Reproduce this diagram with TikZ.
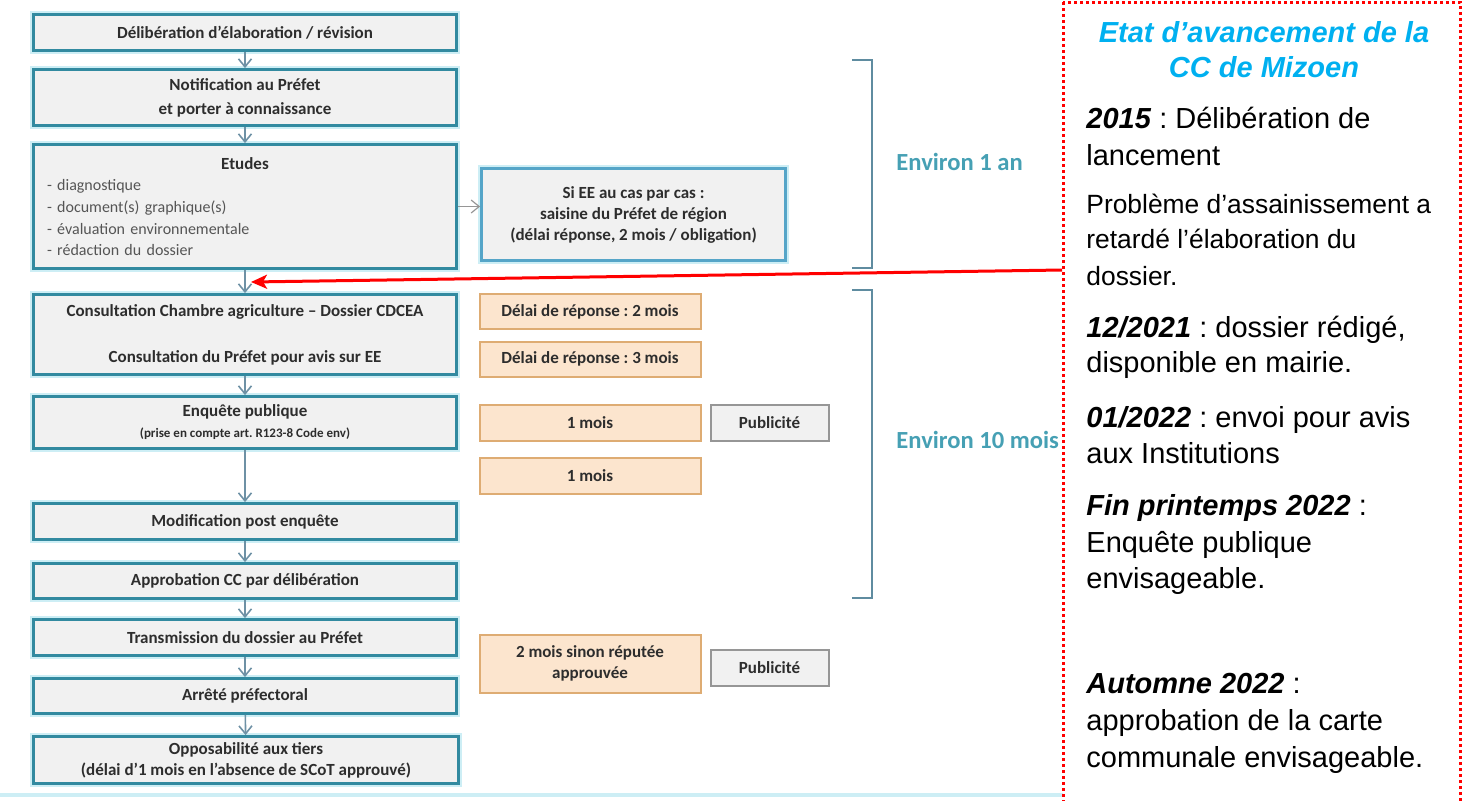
\documentclass[tikz,border=0pt]{standalone}
\usepackage{fontspec}
\setmainfont{Liberation Sans}
\newfontfamily\boxfont{Carlito}
\usetikzlibrary{arrows.meta}
\frenchspacing

\definecolor{stageline}{RGB}{50,138,160}
\definecolor{stagefill}{RGB}{241,241,241}
\definecolor{glow}{RGB}{205,238,245}
\definecolor{eeline}{RGB}{85,165,200}
\definecolor{delayfill}{RGB}{252,229,206}
\definecolor{delayline}{RGB}{222,172,115}
\definecolor{publine}{RGB}{150,150,150}
\definecolor{flowcol}{RGB}{110,145,165}
\definecolor{bracecol}{RGB}{95,140,160}
\definecolor{envcol}{RGB}{70,160,180}
\definecolor{titleblue}{RGB}{0,176,240}
\definecolor{boxtext}{RGB}{45,45,45}
\definecolor{listtext}{RGB}{85,85,85}

\newcommand\datum[1]{\textbf{\textit{#1}}}
\newcommand\smallpanel{\fontsize{13.2}{16}\selectfont}

\begin{document}
\begin{tikzpicture}[x=0.5pt, y=-0.5pt,
  stage/.style={draw=stageline, line width=1.4pt, fill=stagefill,
    preaction={draw=glow, line width=3.5pt}, minimum width=211.5pt,
    inner sep=2pt, align=center, text=boxtext,
    font=\boxfont\bfseries\fontsize{8.5}{10.5}\selectfont},
  ee/.style={stage, draw=eeline, minimum width=152pt, minimum height=46pt},
  delay/.style={draw=delayline, line width=1pt, fill=delayfill,
    minimum width=110.5pt, minimum height=17.5pt, inner sep=2pt,
    align=center, text=boxtext,
    font=\boxfont\bfseries\fontsize{8.5}{10.5}\selectfont},
  pub/.style={delay, draw=publine, fill=stagefill, minimum width=59pt,
    minimum height=18pt},
  flow/.style={draw=flowcol, line width=0.8pt,
    -{Straight Barb[length=4pt, width=6.5pt]}},
  brace/.style={draw=bracecol, line width=1pt},
  period/.style={anchor=west, inner sep=0pt, text=envcol,
    font=\boxfont\bfseries\fontsize{12.3}{14}\selectfont},
  paneltitle/.style={anchor=base, inner sep=0pt, text=titleblue,
    font=\bfseries\itshape\fontsize{14.5}{18}\selectfont},
  paneltext/.style={anchor=base west, inner sep=0pt,
    font=\fontsize{14.5}{18}\selectfont}]

  \clip (0,0) rectangle (1469,800);

  % Procedure, left column
  \node[stage, minimum height=18pt] (delib) at (245,32.5) {Délibération d’élaboration / révision};
  \node[stage, minimum height=28pt] (notif) at (245,97.5) {Notification au Préfet\\[1.5pt]et porter à connaissance};
  \node[stage, minimum height=62pt, text width=198pt, align=left,
    font=\boxfont\fontsize{8}{10.8}\selectfont] (etudes) at (245,206.5)
    {\makebox[\hsize][c]{\bfseries\fontsize{8.5}{10.8}\selectfont Etudes}\\
     {\color{listtext}- diagnostique}\\
     {\color{listtext}- document(s) graphique(s)}\\
     {\color{listtext}- évaluation environnementale}\\
     {\color{listtext}- rédaction du dossier}};
  \node[stage, minimum height=40pt] (consult) at (245,334.5) {Consultation Chambre agriculture – Dossier CDCEA\\[12.5pt]Consultation du Préfet pour avis sur EE};
  \node[stage, minimum height=26pt] (enquete) at (245,422.5) {Enquête publique\\{\fontsize{6.5}{8}\selectfont (prise en compte art. R123-8 Code env)}};
  \node[stage, minimum height=18pt] (modif) at (245,521.5) {Modification post enquête};
  \node[stage, minimum height=17.5pt] (approb) at (245,581) {Approbation CC par délibération};
  \node[stage, minimum height=18pt] (transm) at (245,637.5) {Transmission du dossier au Préfet};
  \node[stage, minimum height=17.5pt] (arrete) at (245,696) {Arrêté préfectoral};
  \node[stage, minimum height=23.5pt, minimum width=212.5pt] (oppos) at (246,760) {Opposabilité aux tiers\\(délai d’1 mois en l’absence de SCoT approuvé)};

  % Delays and side steps
  \node[ee] (ee) at (633.5,214.5) {Si EE au cas par cas :\\saisine du Préfet de région\\(délai réponse, 2 mois / obligation)};
  \node[delay] (rep2) at (590,311.5) {Délai de réponse : 2 mois};
  \node[delay] (rep3) at (590,359) {Délai de réponse : 3 mois};
  \node[delay, minimum height=18pt] (mois1) at (590,422.5) {1 mois};
  \node[pub] (pub1) at (769.5,422.5) {Publicité};
  \node[delay, minimum height=18pt] (mois2) at (590,476) {1 mois};
  \node[delay, minimum height=29pt] (sinon) at (590,663.5) {2 mois sinon réputée\\approuvée};
  \node[pub] (pub2) at (769.5,667.5) {Publicité};

  % Vertical arrows
  \draw[flow] (delib) -- (notif);
  \draw[flow] (notif) -- (etudes);
  \draw[flow] (etudes) -- (consult);
  \draw[flow] (consult) -- (enquete);
  \draw[flow] (enquete) -- (modif);
  \draw[flow] (modif) -- (approb);
  \draw[flow] (approb) -- (transm);
  \draw[flow] (transm) -- (arrete);
  \draw[flow] (arrete) -- (oppos);
  \draw[flow, draw=publine, line width=0.6pt] ([yshift=4pt]etudes.east |- ee.west) -- ([yshift=4pt]ee.west);

  % Durations
  \draw[brace] (852,60) -- (872,60) -- (872,268) -- (852,268);
  \draw[brace] (852,290) -- (872,290) -- (872,598) -- (852,598);
  \node[period] (an) at (896,162) {Environ 1 an};
  \node[period] (dix) at (896,440) {Environ 10 mois};

  \draw[glow, line width=2pt] (0,795) -- (1063,795);

  % Progress panel
  \draw[red, line width=1.5pt, dash pattern=on 1.5pt off 1.5pt] (1063,2) rectangle (1460,830);
  \node[paneltitle] (t1) at (1264,42) {Etat d’avancement de la};
  \node[paneltitle] (t2) at (1264,77) {CC de Mizoen};
  \foreach \yy/\txt [count=\i] in {
      128/{\datum{2015} : Délibération de},
      165/{lancement},
      213/{\smallpanel Problème d’assainissement a},
      248/{\smallpanel retardé l’élaboration du},
      285/{\smallpanel dossier.},
      337/{\datum{12/2021} : dossier rédigé,},
      372/{disponible en mairie.},
      427/{\datum{01/2022} : envoi pour avis},
      463/{aux Institutions},
      515/{\datum{Fin printemps 2022} :},
      552/{Enquête publique},
      588/{envisageable.},
      693/{\datum{Automne 2022} :},
      730/{approbation de la carte},
      767/{communale envisageable.}}
    \node[paneltext] (p\i) at (1086,\yy) {\txt};

  % Link from panel to the step reached
  \coordinate (from) at (1062,270);
  \coordinate (to) at (251,282);
  \draw[red, line width=1.5pt, -{Stealth[length=8pt, width=7pt, inset=2pt]}] (from) -- (to);

\end{tikzpicture}
\end{document}
